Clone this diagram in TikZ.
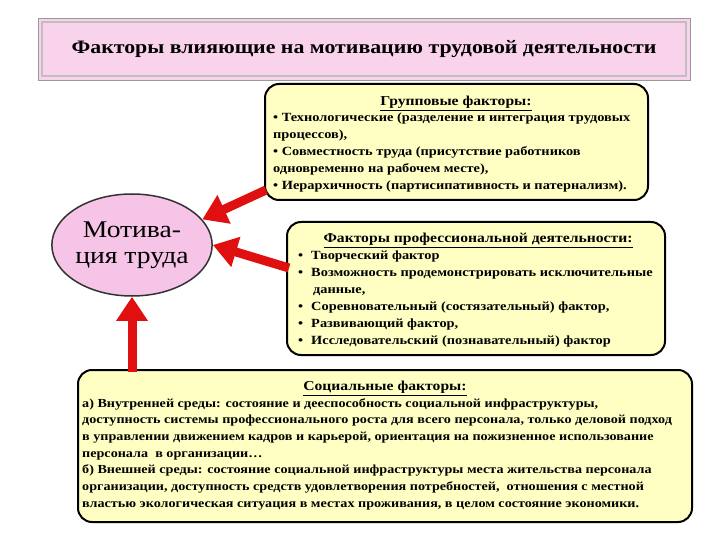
\documentclass[tikz,border=0pt]{standalone}
\usepackage{fontspec}
\setmainfont[FakeStretch=1.15]{Liberation Serif}
\usetikzlibrary{arrows.meta,shapes.geometric}
\definecolor{boxy}{HTML}{FFFFC4}
\definecolor{pinkt}{HTML}{F9D2EC}
\definecolor{pinke}{HTML}{F6C4E6}
\definecolor{redar}{HTML}{E01010}
\tikzset{
  ybox/.style={draw=black,line width=2pt,rounded corners=14pt,fill=boxy},
  btxt/.style={font=\bfseries\fontsize{12.5}{17}\selectfont,align=left,inner sep=0pt,anchor=north west},
  hd/.style={font=\bfseries\fontsize{13.6}{15}\selectfont,inner sep=0pt,anchor=north},
  rarr/.style={-{Triangle[length=24pt,width=30pt]},line width=9pt,draw=redar},
}
\begin{document}
\begin{tikzpicture}[x=1pt,y=-1pt]
\useasboundingbox (0,0) rectangle (720,540);
% title
\draw[fill=pinkt,draw=black!40,line width=0.8pt] (38,18) rectangle (690,80);
\draw[draw=black!25,line width=2pt] (42,22) rectangle (686,76);
\node[font=\bfseries\fontsize{19}{22}\selectfont] (title) at (364,49) {Факторы влияющие на мотивацию трудовой деятельности};
% ellipse
\node[draw=black!80,line width=1.5pt,fill=pinke,ellipse,minimum width=146pt,minimum height=102pt,align=center,font=\fontsize{24}{26}\selectfont,inner sep=0pt] (mot) at (132,245) {Мотива-\\ция труда};
% boxes
\path[ybox] (265,84) rectangle (648,200);
\node[hd] (gh) at (456,96) {\underline{Групповые факторы:}};
\node[btxt] (gt) at (273,113) {• Технологические (разделение и интеграция трудовых\\процессов),\\• Совместность труда (присутствие работников\\одновременно на рабочем месте),\\• Иерархичность (партисипативность и патернализм).};
\path[ybox] (287,222) rectangle (665,355);
\node[hd] (ph) at (478,233) {\underline{Факторы профессиональной деятельности:}};
\node[btxt] (pt) at (298,251) {•\hspace{8pt}Творческий фактор\\•\hspace{8pt}Возможность продемонстрировать исключительные\\\hspace{15pt}данные,\\•\hspace{8pt}Соревновательный (состязательный) фактор,\\•\hspace{8pt}Развивающий фактор,\\•\hspace{8pt}Исследовательский (познавательный) фактор};
\path[ybox] (78,370) rectangle (692,522);
\node[hd] (sh) at (385,381) {\underline{Социальные факторы:}};
\node[btxt,font=\bfseries\fontsize{12.3}{16.7}\selectfont] (st) at (82,398) {а) Внутренней среды: состояние и дееспособность социальной инфраструктуры,\\доступность системы профессионального роста для всего персонала, только деловой подход\\в управлении движением кадров и карьерой, ориентация на пожизненное использование\\персонала \ в организации…\\б) Внешней среды: состояние социальной инфраструктуры места жительства персонала\\организации, доступность средств удовлетворения потребностей, \ отношения с местной\\властью экологическая ситуация в местах проживания, в целом состояние экономики.};
% arrows
\coordinate (a1s) at (266,190);
\coordinate (a2s) at (289,268);
\coordinate (a3s) at (132,372);
\draw[rarr] (a1s) -- (mot.20);
\draw[rarr] (a2s) -- (mot.east);
\draw[rarr] (a3s) -- (mot.south);
\end{tikzpicture}
\end{document}
